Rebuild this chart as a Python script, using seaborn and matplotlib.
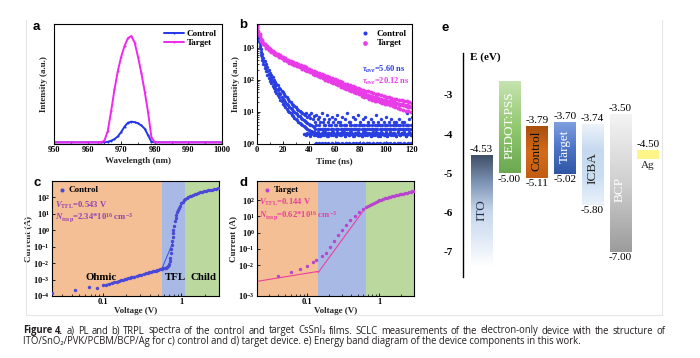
import numpy as np
import pandas as pd
import matplotlib
matplotlib.use("Agg")
import matplotlib.pyplot as plt
import seaborn as sns
from matplotlib.colors import LinearSegmentedColormap
from matplotlib.ticker import LogLocator, NullFormatter, MultipleLocator, FixedLocator, FixedFormatter
from matplotlib.lines import Line2D

# ---------------- data ----------------
# (a) PL spectra
pl_wl = [950, 955, 960, 963, 964, 965, 966, 967, 968, 969, 970, 971, 972, 973, 974,
         975, 976, 977, 978, 979, 980, 985, 990, 995, 1000]
pl_control = [0.015, 0.015, 0.015, 0.015, 0.015, 0.016, 0.02, 0.03, 0.045, 0.07, 0.11, 0.16,
              0.195, 0.205, 0.20, 0.19, 0.17, 0.14, 0.08, 0.02, 0.015, 0.015, 0.015, 0.015, 0.015]
pl_target = [0.015, 0.015, 0.015, 0.015, 0.016, 0.03, 0.12, 0.30, 0.50, 0.67, 0.80, 0.90,
             0.97, 0.99, 0.93, 0.80, 0.65, 0.48, 0.29, 0.06, 0.015, 0.015, 0.015, 0.015, 0.015]

# (b) TRPL decays, 1 ns sampling
trpl_ctrl_a = [3100, 1950, 1150, 720, 510, 390, 295, 235, 182, 152, 124, 104, 90, 74, 64,
               53, 47, 39, 35, 29, 26, 23, 20, 18, 16, 14.5, 13, 12, 10.5, 10, 9.2, 8.5, 7.6,
               7.2, 6.5, 6, 5.6, 5.2, 4.8, 4.5, 4.2, 4, 3.8, 3.6, 3.5,
               3, 4, 3, 4, 3, 3, 3, 4, 3, 3, 3, 4, 3, 3, 3, 4, 3, 3, 3, 4,
               3, 3, 3, 4, 3, 3, 3, 4, 3, 3, 3, 3, 3, 3, 3, 4, 3, 3, 3, 3,
               3, 4, 3, 3, 3, 3, 3, 3, 3, 4, 3, 3, 3, 3, 3, 4, 3, 3, 3, 3,
               3, 3, 3, 4, 3, 3, 3, 3, 3, 3, 3, 4, 3, 3, 3, 3]
trpl_ctrl_b = [3600, 2300, 1400, 900, 640, 470, 370, 300, 240, 200, 165, 140, 118, 100, 86,
               76, 66, 57, 50, 44, 40, 35, 31, 28, 25, 22, 20, 18, 16, 15, 14, 12.5, 11.5,
               10.5, 10, 9, 8.5, 8, 9.5, 7, 8, 6.5, 9, 6, 7.5,
               5, 8, 6, 7, 5, 9, 5, 6, 4, 8, 5, 6, 4, 7, 5, 6, 4, 8, 5, 5,
               4, 7, 4, 6, 4, 9, 5, 5, 4, 7, 4, 6, 4, 8, 4, 5, 4, 6, 4, 7,
               4, 5, 4, 6, 4, 5, 4, 8, 4, 5, 4, 6, 4, 5, 4, 7, 4, 5, 4, 6,
               4, 5, 4, 5, 4, 6, 4, 5, 4, 5, 4, 9, 4, 6, 4, 7]
trpl_ctrl_c = [2600, 1650, 950, 580, 410, 310, 235, 182, 142, 115, 94, 78, 64, 54, 45,
               38, 33, 28, 24, 21, 18, 16, 14, 12.5, 11, 10, 9, 8, 7.2, 6.5, 6, 5.4, 5,
               4.6, 4.2, 3.9, 3.6, 3.3, 3.1, 2.9, 2.7, 2.6, 2.5, 2.4, 2.3,
               2.2, 1.9, 2.3, 2.0, 1.8, 2.2, 2.1, 1.9, 2.3, 2.0, 1.8, 2.2, 2.0, 2.4, 1.9,
               2.1, 1.8, 2.3, 2.0, 2.2, 1.9, 2.1, 2.3, 1.8, 2.0, 2.2, 1.9, 2.4, 2.0, 2.1,
               1.8, 2.2, 2.0, 2.3, 1.9, 2.1, 1.8, 2.2, 2.0, 2.3, 1.9, 2.1, 2.2, 1.8, 2.0,
               2.3, 1.9, 2.1, 2.0, 2.2, 1.8, 2.3, 2.0, 2.1, 1.9, 2.2, 1.8, 2.0, 2.3, 2.1,
               1.9, 2.2, 2.0, 1.8, 2.3, 2.1, 1.9, 2.2, 2.0, 2.4, 1.8, 2.1, 2.0, 2.3, 1.9, 2.2]
trpl_ctrl_lv2_start = 36
trpl_ctrl_lv2 = [2.0, 2.1, 1.9, 2.2, 2.0, 1.8, 2.1, 2.3, 1.9, 2.0, 2.2, 1.8, 2.1, 2.0, 1.9,
                 2.3, 2.0, 2.1, 1.8, 2.2, 2.0, 1.9, 2.1, 2.3, 2.0, 1.8, 2.2, 2.0, 1.9, 2.1,
                 2.3, 2.0, 1.8, 2.1, 2.2, 1.9, 2.0, 2.3, 1.8, 2.1, 2.0, 2.2, 1.9, 2.0, 2.1,
                 1.8, 2.3, 2.0, 1.9, 2.2, 2.1, 2.0, 1.8, 2.2, 1.9, 2.1, 2.3, 2.0, 1.8, 2.1,
                 2.0, 2.2, 1.9, 2.0, 2.3, 1.8, 2.1, 2.0, 1.9, 2.2, 2.0, 2.1, 1.8, 2.3, 2.0,
                 1.9, 2.2, 2.1, 2.0, 1.8, 2.1, 2.0, 2.2, 1.9, 2.0]
trpl_ctrl_lv1_start = 45
trpl_ctrl_lv1 = [1.03, 1.05, 1.02, 1.04, 1.03, 1.05, 1.02, 1.03, 1.04, 1.03, 1.05, 1.02,
                 1.03, 1.04, 1.03, 1.02, 1.05, 1.03, 1.04, 1.02, 1.03, 1.05, 1.03, 1.02,
                 1.04, 1.03, 1.05, 1.02, 1.03, 1.04, 1.03, 1.02, 1.05, 1.03, 1.04, 1.02,
                 1.03, 1.05, 1.03, 1.02, 1.04, 1.03, 1.05, 1.02, 1.03, 1.04, 1.03, 1.02,
                 1.05, 1.03, 1.04, 1.02, 1.03, 1.05, 1.03, 1.02, 1.04, 1.03, 1.05, 1.02,
                 1.03, 1.04, 1.03, 1.02, 1.05, 1.03, 1.04, 1.02, 1.03, 1.05, 1.03, 1.02,
                 1.04, 1.03, 1.05, 1.02]
trpl_tgt_a = [5200, 3200, 2250, 1800, 1500, 1380, 1180, 1120, 980, 940, 840, 810, 720, 710,
              640, 630, 570, 565, 515, 505, 460, 455, 418, 412, 380, 378, 348, 346, 320,
              318, 294, 290, 270, 268, 250, 246, 230, 226, 212, 208, 196, 190, 181, 175,
              167, 160, 154, 147, 142, 134, 130, 123, 120, 113, 110, 104, 102, 96, 94, 88,
              87, 81, 80, 75, 74, 69, 68, 64, 63, 59, 58, 55, 54, 51, 50, 47, 47, 44, 44,
              41, 41, 38, 38, 36, 36, 33, 34, 31, 32, 29, 30, 27, 28, 26, 27, 24, 25, 23,
              24, 22, 23, 21, 22, 20, 21, 19, 20, 18, 19, 17, 18, 16.5, 17, 16, 16.5, 15,
              16, 14.5, 15, 14, 14.5]
trpl_tgt_b = [4400, 2700, 2600, 1600, 1700, 1250, 1300, 1000, 1080, 860, 930, 740, 800, 640,
              700, 580, 640, 520, 570, 460, 510, 410, 465, 370, 420, 340, 390, 310, 360,
              285, 330, 260, 305, 240, 282, 220, 258, 200, 240, 185, 222, 170, 205, 155,
              190, 142, 176, 130, 162, 120, 150, 110, 138, 100, 128, 92, 118, 85, 110, 78,
              102, 72, 95, 66, 88, 61, 82, 56, 76, 52, 71, 48, 66, 44, 62, 41, 58, 38, 55,
              35, 52, 32, 49, 30, 46, 28, 43, 26, 41, 24, 39, 22, 37, 21, 35, 20, 33, 19,
              31, 18, 30, 17, 28, 16, 27, 15, 26, 14, 25, 13, 24, 12, 23, 11.5, 22, 11, 21,
              10.5, 20, 10, 19]
tau_ctrl, tau_tgt = 5.60, 20.12

# (c) SCLC control
c_V = [0.0226, 0.0446, 0.066, 0.0856, 0.10, 0.11, 0.12, 0.13, 0.14, 0.15, 0.16, 0.17,
       0.18, 0.19, 0.20, 0.21, 0.22, 0.23, 0.24, 0.25, 0.27, 0.29, 0.31, 0.33, 0.35, 0.37,
       0.39, 0.41, 0.43, 0.45, 0.47, 0.49, 0.51, 0.53, 0.55, 0.57, 0.59, 0.61, 0.63, 0.65,
       0.67, 0.69, 0.71, 0.72, 0.73, 0.74, 0.75, 0.76, 0.77, 0.78, 0.79, 0.80, 0.82, 0.84,
       0.86, 0.88, 0.90, 0.93, 0.96, 1.0, 1.04, 1.08, 1.12, 1.17, 1.22, 1.28, 1.34, 1.4,
       1.47, 1.55, 1.63, 1.72, 1.82, 1.92, 2.03, 2.15, 2.28, 2.42, 2.57, 2.73, 2.9, 3.0]
c_I = [1.6e-4, 2.3e-4, 3.7e-4, 3.2e-4, 4.4e-4, 5.0e-4, 5.6e-4, 6.2e-4, 6.9e-4, 7.6e-4,
       8.2e-4, 8.9e-4, 9.7e-4, 1.04e-3, 1.11e-3, 1.19e-3, 1.27e-3, 1.34e-3, 1.43e-3,
       1.51e-3, 1.67e-3, 1.84e-3, 2.01e-3, 2.19e-3, 2.37e-3, 2.56e-3, 2.75e-3, 2.93e-3,
       3.13e-3, 3.33e-3, 3.53e-3, 3.73e-3, 3.94e-3, 4.15e-3, 4.37e-3, 4.57e-3, 4.79e-3,
       5.0e-3, 5.2e-3, 5.5e-3, 6.5e-3, 8.5e-3, 1.4e-2, 2.2e-2, 4e-2, 7e-2, 0.12, 0.22,
       0.4, 0.7, 1.1, 1.7, 3.5, 6, 9, 13, 17, 24, 32, 45, 56, 66, 76, 88, 100, 114, 127,
       140, 155, 170, 186, 203, 220, 237, 253, 270, 287, 303, 320, 336, 350, 358]
c_fit_ohmic_V, c_fit_ohmic_I = [0.10, 0.72], [4.4e-4, 6.3e-3]
c_fit_tfl_V, c_fit_tfl_I = [0.56, 0.78], [4.3e-3, 0.19]
c_regions = [0.0226, 0.569, 1.10, 3.0]
c_vtfl, c_ntrap = "0.543", "2.34"

# (d) SCLC target
d_V = [0.0397, 0.0607, 0.079, 0.10, 0.121, 0.135, 0.16, 0.185, 0.206, 0.233, 0.268,
       0.305, 0.35, 0.39, 0.455, 0.53, 0.60, 0.65, 0.70, 0.75, 0.80, 0.85, 0.90, 0.95,
       1.0, 1.06, 1.12, 1.19, 1.26, 1.34, 1.42, 1.5, 1.6, 1.7, 1.8, 1.9, 2.0, 2.12, 2.25,
       2.4, 2.55, 2.7, 2.85, 3.0]
d_I = [2.3e-3, 3.7e-3, 5.4e-3, 9.5e-3, 1.55e-2, 2.2e-2, 3.5e-2, 5.8e-2, 0.14, 0.29,
       0.69, 1.38, 3.1, 5.8, 10.7, 19, 28, 36, 44, 52, 60, 68, 77, 86, 96, 108, 118, 130,
       142, 154, 166, 177, 190, 203, 215, 226, 237, 250, 268, 285, 305, 325, 345, 360]
d_fit_ohmic_V, d_fit_ohmic_I = [0.0204, 0.142], [1.0e-3, 4.1e-3]
d_fit_tfl_V, d_fit_tfl_I = [0.142, 0.63], [3.4e-3, 30.6]
d_regions = [0.0204, 0.142, 0.66, 3.0]
d_vtfl, d_ntrap = "0.144", "0.62"

# (e) energy levels
e_names = ["ITO", "PEDOT:PSS", "Control", "Target", "ICBA", "BCP", "Ag"]
e_top = [-4.53, -2.66, -3.79, -3.70, -3.74, -3.50, -4.40]
e_bottom = [-7.35, -5.00, -5.11, -5.02, -5.80, -7.00, -4.62]
e_top_label = [-4.53, None, -3.79, -3.70, -3.74, -3.50, -4.50]
e_bottom_label = [None, -5.00, -5.11, -5.02, -5.80, -7.00, None]
e_name_y = [-5.93, -3.78, -4.42, -4.30, -4.86, -5.42, -4.80]
e_ticks = [-3, -4, -5, -6, -7]

# ---------------- style ----------------
sns.set_theme(style="ticks")
plt.rcParams.update({
    "font.family": ["Liberation Serif", "DejaVu Serif"],
    "font.weight": "bold",
    "axes.labelweight": "bold",
    "mathtext.fontset": "custom",
    "mathtext.rm": "Liberation Serif:bold",
    "mathtext.it": "Liberation Serif:italic:bold",
    "mathtext.bf": "Liberation Serif:bold",
    "axes.linewidth": 0.8,
    "axes.edgecolor": "black",
    "xtick.color": "black", "ytick.color": "black",
    "xtick.direction": "in", "ytick.direction": "in",
    "xtick.major.size": 2.5, "ytick.major.size": 2.5,
    "xtick.minor.size": 1.4, "ytick.minor.size": 1.4,
    "xtick.major.width": 0.6, "ytick.major.width": 0.6,
    "xtick.minor.width": 0.5, "ytick.minor.width": 0.5,
    "xtick.major.pad": 1.5, "ytick.major.pad": 1.5,
    "xtick.labelsize": 6, "ytick.labelsize": 6,
    "text.color": "black",
})

C_BLUE = "#2236e6"
C_MAG = "#ee28ee"
C_TB = "#2a3fe2"
C_TM = "#e83ce8"
REG = ["#F4BF95", "#A8B9E6", "#BBD89F"]
C_CPTS = "#4a48d6"
C_CFIT = "#3050e0"
C_CTXT = "#9440b4"
C_DPTS = "#b844d0"
C_DFIT = "#ee3f9c"
C_DTXT = "#e8409c"

W, H = 700, 358
fig = plt.figure(figsize=(7, 3.58), dpi=100)


def add_ax(x0, y0, x1, y1):
    return fig.add_axes([x0 / W, 1 - y1 / H, (x1 - x0) / W, (y1 - y0) / H])


LBL = dict(fontsize=6.5, fontweight="bold")
SANS = ["Liberation Sans", "DejaVu Sans"]


def panel_letter(x, y, s):
    fig.text(x / W, 1 - y / H, s, family=SANS, fontweight="bold", fontsize=9.5,
             ha="left", va="center")


# faint frame of the figure image
for xs, ys in [([26, 26], [20, 315]), ([26, 662], [315, 315]), ([662, 662], [20, 315])]:
    fig.add_artist(Line2D([x / W for x in xs], [1 - y / H for y in ys],
                          color="#e6e6e6", lw=0.8))

# ---------------- (a) ----------------
ax = add_ax(54, 24, 222, 144)
sns.lineplot(x=pl_wl, y=pl_control, color=C_BLUE, lw=1.4, marker="o", markersize=1.5,
             markeredgewidth=0, label="Control", ax=ax)
sns.lineplot(x=pl_wl, y=pl_target, color=C_MAG, lw=1.4, marker="o", markersize=1.5,
             markeredgewidth=0, label="Target", ax=ax)
ax.set_xlim(950, 1000)
ax.set_ylim(0, 1.1)
ax.set_yticks([])
ax.set_xticks(range(950, 1001, 10))
ax.xaxis.set_minor_locator(MultipleLocator(5))
ax.set_xlabel("Wavelength (nm)", labelpad=2, **LBL)
ax.set_ylabel("Intensity (a.u.)", labelpad=4, **LBL)
ax.legend(loc="upper right", frameon=False, prop=dict(size=6.5, weight="bold"),
          handlelength=2.2, borderaxespad=0.2, labelspacing=0.15, handletextpad=0.3)
panel_letter(33, 27, "a")

# ---------------- (b) ----------------
ax = add_ax(257, 24, 412, 144)
series_b = [
    (np.arange(len(trpl_ctrl_a)), trpl_ctrl_a, C_TB, "Control", 6),
    (np.arange(len(trpl_ctrl_b)), trpl_ctrl_b, C_TB, None, 6),
    (np.arange(len(trpl_ctrl_c)), trpl_ctrl_c, C_TB, None, 6),
    (np.arange(trpl_ctrl_lv2_start, trpl_ctrl_lv2_start + len(trpl_ctrl_lv2)), trpl_ctrl_lv2, C_TB, None, 6),
    (np.arange(trpl_ctrl_lv1_start, trpl_ctrl_lv1_start + len(trpl_ctrl_lv1)), trpl_ctrl_lv1, C_TB, None, 6),
    (np.arange(len(trpl_tgt_a)), trpl_tgt_a, C_TM, "Target", 8),
    (np.arange(len(trpl_tgt_b)), trpl_tgt_b, C_TM, None, 8),
]
for t, v, c, lab, sz in series_b:
    kw = {"label": lab} if lab else {}
    sns.scatterplot(x=t, y=v, color=c, s=sz, linewidth=0, ax=ax, **kw)
ax.set_yscale("log")
ax.set_xlim(0, 120)
ax.set_ylim(1, 5400)
ax.set_xticks(range(0, 121, 20))
ax.xaxis.set_minor_locator(MultipleLocator(10))
ax.yaxis.set_major_locator(FixedLocator([1, 10, 100, 1000]))
ax.yaxis.set_minor_locator(LogLocator(base=10, subs=np.arange(2, 10)))
ax.yaxis.set_minor_formatter(NullFormatter())
ax.set_xlabel("Time (ns)", labelpad=2, **LBL)
ax.set_ylabel("Intensity (a.u.)", labelpad=1, **LBL)
ax.legend(loc="upper right", frameon=False, prop=dict(size=6.5, weight="bold"),
          markerscale=1.2, borderaxespad=0.2, labelspacing=0.15, handletextpad=0.3)
ax.text(0.68, 0.625, r"$\tau_{ave}$=%.2f ns" % tau_ctrl, transform=ax.transAxes,
        color=C_TB, fontsize=6.0, va="center")
ax.text(0.68, 0.525, r"$\tau_{ave}$=%.2f ns" % tau_tgt, transform=ax.transAxes,
        color=C_TM, fontsize=6.0, va="center")
panel_letter(239, 25, "b")


def sclc_axes(ax, regions, ylim):
    ax.set_xscale("log")
    ax.set_yscale("log")
    for i in range(3):
        ax.axvspan(regions[i], regions[i + 1], color=REG[i], lw=0, zorder=0)
    ax.set_xlim(regions[0], regions[-1])
    ax.set_ylim(*ylim)
    ax.set_xticks([0.1, 1])
    ax.set_xticklabels(["0.1", "1"])
    ax.xaxis.set_minor_locator(LogLocator(base=10, subs=np.arange(2, 10)))
    ax.xaxis.set_minor_formatter(NullFormatter())
    ax.yaxis.set_minor_locator(FixedLocator([]))
    ax.set_xlabel("Voltage (V)", labelpad=1, **LBL)
    ax.set_ylabel("Current (A)", labelpad=1, **LBL)


# ---------------- (c) ----------------
ax = add_ax(52, 181, 219, 296)
sclc_axes(ax, c_regions, (1e-4, 1e3))
ax.set_yticks([1e-4, 1e-3, 1e-2, 1e-1, 1, 10, 100])
sns.lineplot(x=c_fit_ohmic_V, y=c_fit_ohmic_I, color=C_CFIT, lw=0.7, ax=ax)
sns.lineplot(x=c_fit_tfl_V, y=c_fit_tfl_I, color=C_CFIT, lw=0.7, ax=ax)
sns.scatterplot(x=c_V, y=c_I, color=C_CPTS, s=6, linewidth=0, label="Control", ax=ax, zorder=3)
ax.legend(loc="upper left", frameon=False, prop=dict(size=6.5, weight="bold"),
          markerscale=1.2, borderaxespad=0.15, handletextpad=0.1, handlelength=1.2)
ax.text(0.02, 0.79, r"$V_{\rm TFL}$=%s V" % c_vtfl, transform=ax.transAxes,
        color=C_CTXT, fontsize=6.2, va="center")
ax.text(0.02, 0.685, r"$N_{\rm trap}$=%s*10$^{16}$ cm$^{-3}$" % c_ntrap,
        transform=ax.transAxes, color=C_CTXT, fontsize=6.2, va="center")
for s, xf in [("Ohmic", 0.293), ("TFL", 0.74), ("Child", 0.905)]:
    ax.text(xf, 0.16, s, transform=ax.transAxes, fontsize=7.8, fontweight="bold",
            ha="center", va="center")
panel_letter(33, 183, "c")

# ---------------- (d) ----------------
ax = add_ax(257, 181, 414, 296)
d_ybot = 10 ** -3.9
sclc_axes(ax, d_regions, (d_ybot, 10 ** 3.18))
ax.yaxis.set_major_locator(FixedLocator([d_ybot, 1e-2, 1e-1, 1, 10, 100]))
ax.yaxis.set_major_formatter(FixedFormatter([r"$10^{-3}$", r"$10^{-2}$", r"$10^{-1}$",
                                             r"$10^{0}$", r"$10^{1}$", r"$10^{2}$"]))
sns.lineplot(x=d_fit_ohmic_V, y=d_fit_ohmic_I, color=C_DFIT, lw=0.8, ax=ax)
sns.lineplot(x=d_fit_tfl_V, y=d_fit_tfl_I, color=C_DFIT, lw=0.8, ax=ax)
sns.scatterplot(x=d_V, y=d_I, color=C_DPTS, s=6, linewidth=0, label="Target", ax=ax, zorder=3)
ax.legend(loc="upper left", frameon=False, prop=dict(size=6.5, weight="bold"),
          markerscale=1.2, borderaxespad=0.15, handletextpad=0.1, handlelength=1.2)
ax.text(0.01, 0.81, r"$V_{\rm TFL}$=%s V" % d_vtfl, transform=ax.transAxes,
        color=C_DTXT, fontsize=6.2, va="center")
ax.text(0.01, 0.70, r"$N_{\rm trap}$=%s*10$^{16}$ cm$^{-3}$" % d_ntrap,
        transform=ax.transAxes, color=C_DTXT, fontsize=6.2, va="center")
panel_letter(239, 183, "d")

# ---------------- (e) ----------------
ax = add_ax(463, 53, 681, 277)
grad = {
    "ITO": ["#3e4e66", "#7f95b6", "#c6d6eb", "#dfe9f6", "#ffffff"],
    "PEDOT:PSS": ["#c6e3b0", "#92c870", "#6aa84f"],
    "Control": ["#a94e0c", "#d46b1a", "#c25e12"],
    "Target": ["#7f9fde", "#4e74c8", "#2f55a4"],
    "ICBA": ["#edf3fa", "#c4d9ef", "#cbdff3", "#ebf2fa"],
    "BCP": ["#f4f4f4", "#cfcfcf", "#9c9c9c"],
    "Ag": ["#fff68a", "#fff68a"],
}
name_col = {"ITO": "#22324a", "PEDOT:PSS": "white", "Control": "#111111",
            "Target": "white", "ICBA": "#222222", "BCP": "white", "Ag": "#222222"}
bw = 0.76
gvals = np.linspace(0, 1, 256).reshape(-1, 1)
for i, name in enumerate(e_names):
    cmap = LinearSegmentedColormap.from_list(name, grad[name])
    ax.imshow(gvals, cmap=cmap, extent=[i - bw / 2, i + bw / 2, e_bottom[i], e_top[i]],
              aspect="auto", origin="upper", zorder=2)
    if e_top_label[i] is not None:
        ax.text(i, e_top[i] + 0.03, "%.2f" % e_top_label[i], ha="center", va="bottom",
                fontsize=8, fontweight="normal", zorder=3)
    if e_bottom_label[i] is not None:
        ax.text(i, e_bottom[i] - 0.03, "%.2f" % e_bottom_label[i], ha="center", va="top",
                fontsize=8, fontweight="normal", zorder=3)
    rot = 0 if name == "Ag" else 90
    ax.text(i, e_name_y[i], name, ha="center", va="center", rotation=rot,
            fontsize=9.5 if name != "Ag" else 8, fontweight="normal",
            color=name_col[name], zorder=4)
ax.set_xlim(-0.67, 7.2)
ax.set_ylim(-7.64, -1.93)
for sp in ["top", "right", "bottom"]:
    ax.spines[sp].set_visible(False)
ax.spines["left"].set_linewidth(1.0)
ax.set_xticks([])
ax.set_yticks(e_ticks)
ax.set_yticklabels(["%d" % v for v in e_ticks])
ax.tick_params(axis="y", length=0, pad=7, labelsize=8)
ax.text(0.03, 0.982, "E (eV)", transform=ax.transAxes, fontsize=8, fontweight="bold",
        ha="left", va="center")
ax.grid(False)
panel_letter(441, 28, "e")

# ---------------- caption ----------------
CAP_FAM = ["Open Sans", "DejaVu Sans"]
cap_col = "#231f20"
x_left, x_right = 22.7, 665
y1, y2 = 331, 341.5
line1 = ("a) PL and b) TRPL spectra of the control and target CsSnI\u2083 films. SCLC "
         "measurements of the electron-only device with the structure of")
line2 = ("ITO/SnO\u2082/PVK/PCBM/BCP/Ag for c) control and d) target device. e) Energy "
         "band diagram of the device components in this work.")
r = fig.canvas.get_renderer()

words1 = [("Figure", "bold"), ("4.", "bold")] + [(w, "normal") for w in line1.split(" ")]
fs = 6.3
texts1 = [fig.text(0, 1 - y1 / H, w, family=CAP_FAM, fontweight=wt, fontsize=fs,
                   color=cap_col, va="center", ha="left") for w, wt in words1]
space = 0.26 * fs * 100 / 72


def natural_width():
    ws = [t.get_window_extent(r).width for t in texts1]
    return ws, sum(ws) + space * (len(ws) - 1)


ws, nat = natural_width()
fs = fs * 0.985 * (x_right - x_left) / nat
for t in texts1:
    t.set_fontsize(fs)
ws = [t.get_window_extent(r).width for t in texts1]
gap = (x_right - x_left - sum(ws)) / (len(ws) - 1)
xpos = x_left
for t, w in zip(texts1, ws):
    t.set_x(xpos / W)
    xpos += w + gap
fig.text(x_left / W, 1 - y2 / H, line2, family=CAP_FAM, fontweight="normal",
         fontsize=fs, color=cap_col, va="center", ha="left")

fig.savefig("out.png", dpi=100)
